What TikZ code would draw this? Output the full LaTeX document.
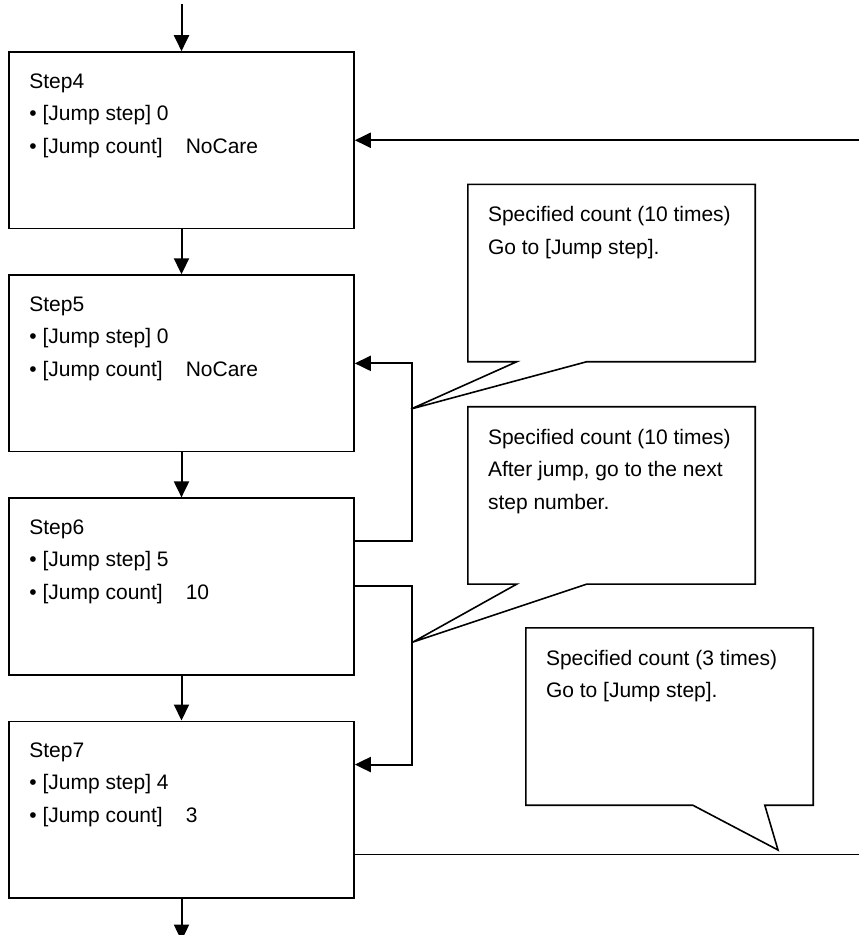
\documentclass[tikz,border=0pt]{standalone}
\usepackage{fontspec}
\setmainfont{Liberation Sans}
\usetikzlibrary{positioning, arrows.meta, calc}

\begin{document}
\begin{tikzpicture}[x=1pt, y=-1pt, font=\fontsize{21pt}{32.5pt}\selectfont,
  stepbox/.style={draw, line width=1.6pt, minimum width=345pt, minimum height=176.5pt, inner sep=0pt},
  body/.style={anchor=north west, align=left, inner sep=0pt},
  note/.style={minimum width=287pt, minimum height=177pt, inner sep=0pt},
  balloon/.style={draw, line width=1.6pt, line join=miter},
  arr/.style={line width=2pt, -{Triangle[length=16pt, width=15pt]}},
  wire/.style={line width=1.6pt}]
\useasboundingbox (0,0) rectangle (859,935);

% step boxes
\node[stepbox] (s4) at (181.5,140.25) {};
\node[stepbox, below=45pt of s4] (s5) {};
\node[stepbox, below=45pt of s5] (s6) {};
\node[stepbox, below=45pt of s6] (s7) {};
\node[body] (s4t) at ([xshift=21pt, yshift=-22pt]s4.north west) {Step4\\• [Jump step] 0\\• [Jump count]\hspace{23pt}NoCare};
\node[body] (s5t) at ([xshift=21pt, yshift=-22pt]s5.north west) {Step5\\• [Jump step] 0\\• [Jump count]\hspace{23pt}NoCare};
\node[body] (s6t) at ([xshift=21pt, yshift=-22pt]s6.north west) {Step6\\• [Jump step] 5\\• [Jump count]\hspace{23pt}10};
\node[body] (s7t) at ([xshift=21pt, yshift=-22pt]s7.north west) {Step7\\• [Jump step] 4\\• [Jump count]\hspace{23pt}3};

\coordinate[above=47pt of s4] (top);
\coordinate[below=42pt of s7] (bot);
\coordinate (edge) at (859,0);

% main flow
\draw[arr] (top) -- (s4);
\draw[arr] (s4) -- (s5);
\draw[arr] (s5) -- (s6);
\draw[arr] (s6) -- (s7);
\draw[arr] (s7) -- (bot);
\draw[arr] (s4.east -| edge) -- (s4.east);

% jumps
\draw[arr] ([yshift=45pt]s6.east) -- ++(57pt,0) |- (s5.east);
\draw[arr] (s6.east) -- ++(57pt,0) |- ([yshift=45pt]s7.east);
\draw[wire] ([yshift=-45pt]s7.east) -- ([yshift=-45pt]s7.east -| edge);

% callouts
\node[note] (c1) at (611.5,273) {};
\node[note, below=45pt of c1] (c2) {};
\node[note] (c3) at (669.5,716.5) {};
\coordinate (t1) at (411,409);
\coordinate (t2) at (413,642);
\coordinate (t3) at (778,850);
\draw[balloon] (c1.south west) |- (c1.north east) |- ([xshift=119pt]c1.south west) -- (t1) -- ([xshift=49pt]c1.south west) -- cycle;
\draw[balloon] (c2.south west) |- (c2.north east) |- ([xshift=119pt]c2.south west) -- (t2) -- ([xshift=49pt]c2.south west) -- cycle;
\draw[balloon] (c3.south west) |- (c3.north east) |- ([xshift=239pt]c3.south west) -- (t3) -- ([xshift=167pt]c3.south west) -- cycle;
\node[body] (c1t) at ([xshift=20pt, yshift=-22pt]c1.north west) {Specified count (10 times)\\Go to [Jump step].};
\node[body] (c2t) at ([xshift=20pt, yshift=-22pt]c2.north west) {Specified count (10 times)\\After jump, go to the next\\step number.};
\node[body] (c3t) at ([xshift=20pt, yshift=-22pt]c3.north west) {Specified count (3 times)\\Go to [Jump step].};
\end{tikzpicture}
\end{document}
